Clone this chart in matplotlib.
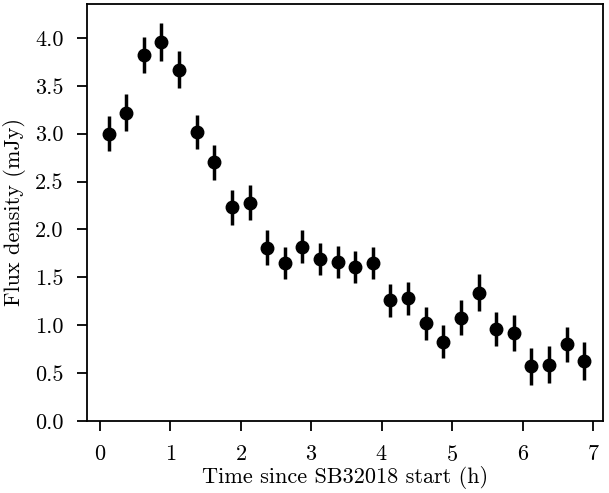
import matplotlib
matplotlib.use("Agg")
import matplotlib.pyplot as plt

plt.rcParams["font.family"] = "cmr10"
plt.rcParams["mathtext.fontset"] = "cm"
plt.rcParams["axes.formatter.use_mathtext"] = True

time_h = [0.125, 0.375, 0.625, 0.875, 1.125, 1.375, 1.625, 1.875, 2.125, 2.375,
          2.625, 2.875, 3.125, 3.375, 3.625, 3.875, 4.125, 4.375, 4.625, 4.875,
          5.125, 5.375, 5.625, 5.875, 6.125, 6.375, 6.625, 6.875]
flux = [3.00, 3.22, 3.82, 3.96, 3.67, 3.02, 2.70, 2.23, 2.28, 1.81,
        1.65, 1.82, 1.69, 1.66, 1.61, 1.65, 1.26, 1.28, 1.02, 0.83,
        1.08, 1.34, 0.96, 0.92, 0.57, 0.59, 0.80, 0.63]
flux_err = [0.18, 0.19, 0.19, 0.20, 0.19, 0.18, 0.18, 0.18, 0.18, 0.18,
            0.17, 0.17, 0.17, 0.17, 0.17, 0.17, 0.17, 0.17, 0.17, 0.17,
            0.18, 0.19, 0.18, 0.19, 0.19, 0.19, 0.18, 0.20]

fig, ax = plt.subplots(figsize=(6.09, 4.93), dpi=100)
ax.errorbar(time_h, flux, yerr=flux_err, fmt="o", color="black",
            markersize=9, elinewidth=2.5, capsize=0)
ax.set_xlim(-0.18, 7.14)
ax.set_ylim(0, 4.355)
ax.set_xticks(range(8))
ax.set_yticks([0.0, 0.5, 1.0, 1.5, 2.0, 2.5, 3.0, 3.5, 4.0])
ax.set_yticklabels([f"{v:.1f}" for v in ax.get_yticks()])
ax.tick_params(labelsize=16, width=1.3, length=7, pad=10)
for s in ax.spines.values():
    s.set_linewidth(1.3)
ax.set_xlabel("Time since SB32018 start (h)", fontsize=16)
ax.set_ylabel("Flux density (mJy)", fontsize=16)
ax.xaxis.set_label_coords(0.5, -0.108)
ax.yaxis.set_label_coords(-0.118, 0.5)
fig.subplots_adjust(left=0.143, right=0.99, top=0.992, bottom=0.146)
fig.savefig("out.png", dpi=100)
